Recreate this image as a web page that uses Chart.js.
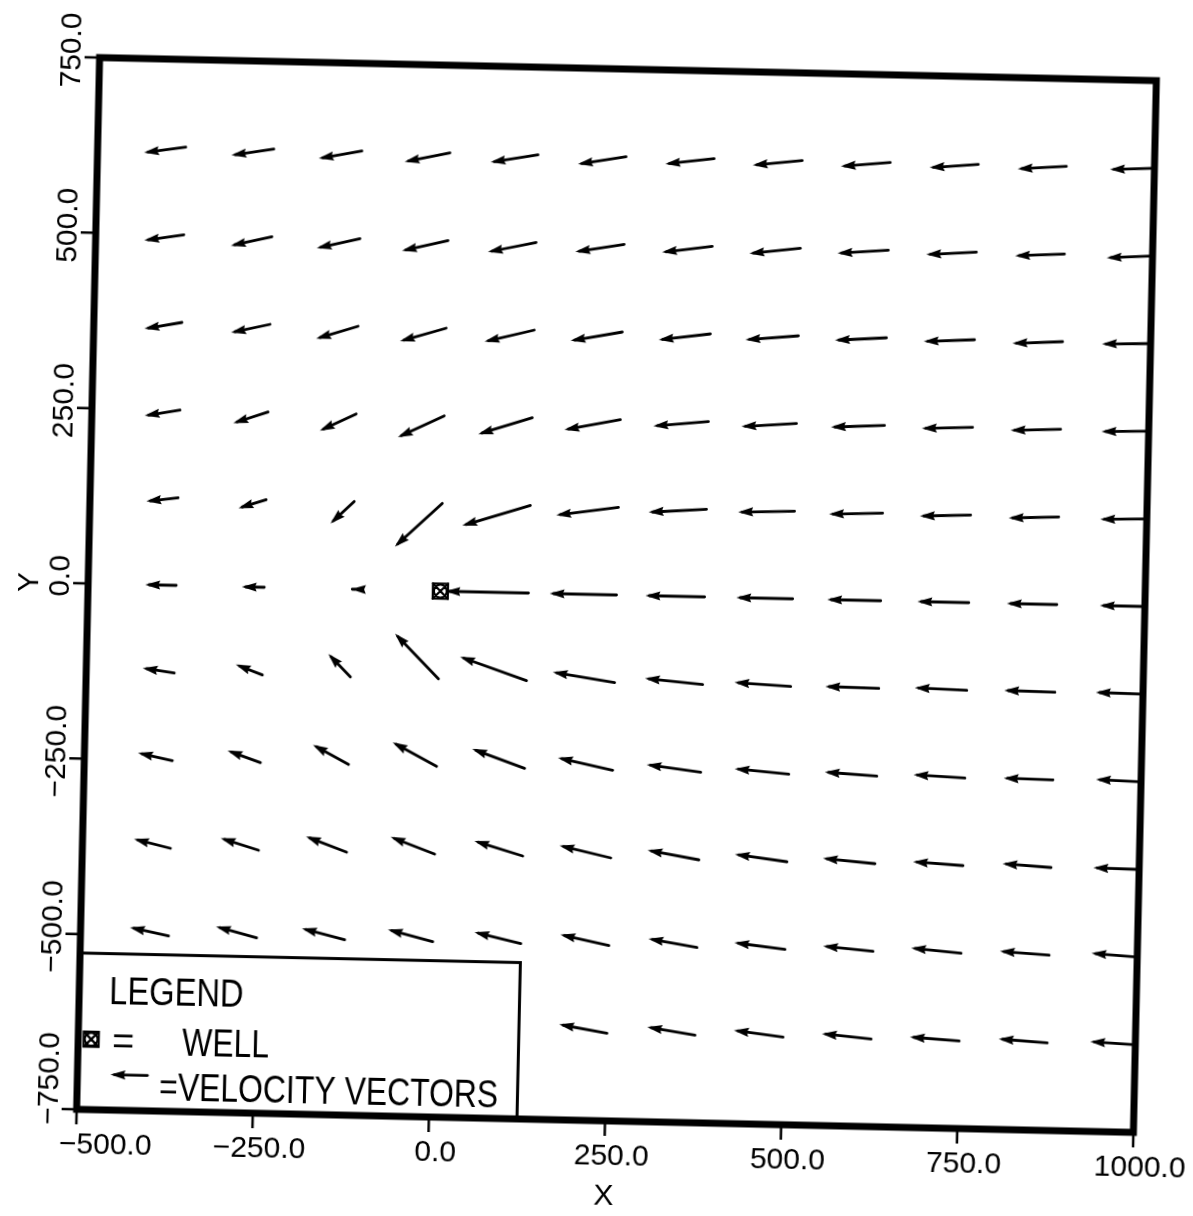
<!DOCTYPE html>
<html>
<head>
<meta charset="utf-8">
<title>Velocity vectors</title>
<script src="https://cdn.jsdelivr.net/npm/chart.js@4.4.0/dist/chart.umd.min.js"></script>
<style>
    html, body { margin: 0; padding: 0; background: #fff; width: 1193px; height: 1216px; overflow: hidden; }
    /* the scanned plot sits slightly tilted on the page */
    #wrap { position: absolute; left: 0; top: 0; width: 1240px; height: 1260px;
            transform-origin: 617px 595px; transform: rotate(1.25deg); }
</style>
</head>
<body>
<div id="wrap"><canvas id="plot" width="1240" height="1260"></canvas></div>
<script>
/*********************************/
// grid points (tail of each arrow)
const X_GRID = [-375, -250, -125, 0, 125, 250, 375, 500, 625, 750, 875, 1000];
const Y_GRID = [625, 500, 375, 250, 125, 0, -125, -250, -375, -500, -625];

// velocity components, one row per Y_GRID value (null = no arrow / under legend)
const U = [
    [-59, -60, -61, -64, -67, -68, -69, -70, -70, -69, -69, -63],
    [-56, -58, -61, -65, -68, -69, -71, -72, -72, -71, -70, -65],
    [-53, -55, -59, -65, -70, -73, -73, -75, -73, -72, -71, -69],
    [-50, -49, -51, -65, -76, -79, -78, -78, -76, -72, -71, -67],
    [-45, -39, -33, -66, -96, -88, -82, -80, -76, -72, -71, -66],
    [-44, -32, -2, null, -118, -95, -84, -80, -76, -73, -71, -64],
    [-45, -38, -32, -63, -95, -88, -82, -80, -76, -74, -72, -67],
    [-49, -47, -51, -63, -75, -78, -77, -77, -74, -73, -70, -64],
    [-52, -54, -58, -63, -69, -73, -73, -74, -74, -71, -69, -65],
    [-55, -58, -61, -64, -66, -69, -69, -72, -71, -71, -70, -65],
    [null, null, null, null, null, -68, -68, -70, -70, -70, -69, -64]
];
const V = [
    [-9, -10, -12, -14, -12, -12, -9, -8, -7, -6, -5, -3],
    [-9, -14, -15, -16, -15, -12, -10, -9, -6, -5, -4, -4],
    [-10, -13, -19, -20, -18, -14, -10, -7, -5, -4, -4, -2],
    [-9, -17, -25, -32, -25, -16, -8, -6, -4, -3, -3, -2],
    [-6, -13, -32, -63, -31, -13, -6, -3, -3, -3, -3, -2],
    [0, 0, 0, null, 0, 0, 0, 0, 0, 0, 0, 0],
    [6, 14, 32, 63, 32, 13, 7, 4, 1, 2, 1, 1],
    [10, 16, 27, 33, 26, 16, 9, 6, 4, 3, 1, 2],
    [12, 16, 21, 23, 20, 16, 12, 9, 6, 4, 4, 1],
    [11, 15, 15, 16, 15, 14, 11, 8, 6, 6, 4, 4],
    [null, null, null, null, null, 11, 10, 8, 6, 4, 4, 3]
];

const WELLS = [{ x: 0, y: 0 }];

const X_TICKS = [-500, -250, 0, 250, 500, 750, 1000];
const Y_TICKS = [-750, -500, -250, 0, 250, 500, 750];

// legend box corner (data units), box runs down to the lower-left corner
const LEGEND_CORNER = { x: 125, y: -527 };

/*********************************/
const TICK_FONT = '30px "Liberation Sans", Arial, sans-serif';
const LEGEND_FONT = '38px "Liberation Sans", Arial, sans-serif';
const HEAD_LEN = 15;
const HEAD_HALF = 4.6;

function fmt_tick(v) {
    return (v < 0 ? '\u2212' : '') + Math.abs(v).toFixed(1);
}

// Arrow from (x0,y0) to (x1,y1), fixed size filled head at the tip
function draw_arrow(ctx, x0, y0, x1, y1) {
    const a = Math.atan2(y1 - y0, x1 - x0);
    const c = Math.cos(a), s = Math.sin(a);
    ctx.beginPath();
    ctx.moveTo(x0, y0);
    ctx.lineTo(x1 - 4 * c, y1 - 4 * s);
    ctx.stroke();
    ctx.beginPath();
    ctx.moveTo(x1, y1);
    ctx.lineTo(x1 - HEAD_LEN * c - HEAD_HALF * s, y1 - HEAD_LEN * s + HEAD_HALF * c);
    ctx.lineTo(x1 - HEAD_LEN * 0.88 * c, y1 - HEAD_LEN * 0.88 * s);
    ctx.lineTo(x1 - HEAD_LEN * c + HEAD_HALF * s, y1 - HEAD_LEN * s - HEAD_HALF * c);
    ctx.closePath();
    ctx.fill();
}

function draw_well(ctx, x, y) {
    const h = 7.5;
    ctx.save();
    ctx.lineWidth = 2.2;
    ctx.strokeRect(x - h, y - h, 2 * h, 2 * h);
    ctx.beginPath();
    ctx.arc(x, y, h - 1, 0, Math.PI * 2);
    ctx.moveTo(x - h, y - h); ctx.lineTo(x + h, y + h);
    ctx.moveTo(x + h, y - h); ctx.lineTo(x - h, y + h);
    ctx.stroke();
    ctx.restore();
}

// Legend text is a narrow plotter font: squeeze it a bit
function legend_text(ctx, str, x, y, squeeze) {
    ctx.save();
    ctx.font = LEGEND_FONT;
    ctx.textAlign = 'left';
    ctx.translate(x, y);
    ctx.scale(squeeze, 1);
    ctx.fillText(str, 0, 0);
    ctx.restore();
}

const vector_plot = {
    id: 'vector_plot',
    afterDraw(chart) {
        const ctx = chart.ctx;
        const xs = chart.scales.x;
        const ys = chart.scales.y;
        const area = chart.chartArea;
        ctx.save();
        ctx.fillStyle = '#000';
        ctx.strokeStyle = '#000';

        // vectors
        ctx.lineWidth = 2.8;
        ctx.lineCap = 'round';
        for (let i = 0; i < Y_GRID.length; i++) {
            for (let j = 0; j < X_GRID.length; j++) {
                const u = U[i][j], v = V[i][j];
                if (u === null || v === null) continue;
                draw_arrow(ctx,
                    xs.getPixelForValue(X_GRID[j]), ys.getPixelForValue(Y_GRID[i]),
                    xs.getPixelForValue(X_GRID[j] + u), ys.getPixelForValue(Y_GRID[i] + v));
            }
        }
        WELLS.forEach(w => draw_well(ctx, xs.getPixelForValue(w.x), ys.getPixelForValue(w.y)));

        // legend box
        const lx = xs.getPixelForValue(LEGEND_CORNER.x);
        const ly = ys.getPixelForValue(LEGEND_CORNER.y);
        ctx.fillStyle = '#fff';
        ctx.fillRect(area.left, ly, lx - area.left, area.bottom - ly);
        ctx.fillStyle = '#000';
        ctx.lineWidth = 3;
        ctx.lineCap = 'butt';
        ctx.strokeRect(area.left, ly, lx - area.left, area.bottom - ly);
        legend_text(ctx, 'LEGEND', area.left + 30, ly + 50, 0.86);
        draw_well(ctx, area.left + 13, ly + 86);
        legend_text(ctx, '=', area.left + 34, ly + 100, 1.0);
        legend_text(ctx, 'WELL', area.left + 104, ly + 100, 0.84);
        ctx.lineWidth = 2.8;
        ctx.lineCap = 'round';
        draw_arrow(ctx, area.left + 70, ly + 121, area.left + 33, ly + 121);
        legend_text(ctx, '=VELOCITY VECTORS', area.left + 82, ly + 145, 0.84);

        // frame
        ctx.lineWidth = 7;
        ctx.lineCap = 'butt';
        ctx.lineJoin = 'miter';
        ctx.strokeRect(area.left, area.top, area.right - area.left, area.bottom - area.top);

        // ticks
        ctx.lineWidth = 2.5;
        ctx.beginPath();
        X_TICKS.forEach(v => {
            const px = xs.getPixelForValue(v);
            ctx.moveTo(px, area.bottom);
            ctx.lineTo(px, area.bottom + 15);
        });
        Y_TICKS.forEach(v => {
            const py = ys.getPixelForValue(v);
            ctx.moveTo(area.left - 15, py);
            ctx.lineTo(area.left, py);
        });
        ctx.stroke();

        // tick labels
        ctx.font = TICK_FONT;
        ctx.textBaseline = 'alphabetic';
        X_TICKS.forEach((v, k) => {
            const px = xs.getPixelForValue(v);
            if (k === 0) {
                ctx.textAlign = 'left';
                ctx.fillText(fmt_tick(v), px - 17, area.bottom + 44);
            } else {
                ctx.textAlign = 'center';
                ctx.fillText(fmt_tick(v), px + 7, area.bottom + 44);
            }
        });
        Y_TICKS.forEach((v, k) => {
            const py = ys.getPixelForValue(v);
            ctx.save();
            ctx.translate(area.left - 19, py);
            ctx.rotate(-Math.PI / 2);
            if (k === 0) {
                ctx.textAlign = 'left';
                ctx.fillText(fmt_tick(v), -16, 0);
            } else {
                ctx.textAlign = 'center';
                ctx.fillText(fmt_tick(v), 7, 0);
            }
            ctx.restore();
        });

        // axis titles
        ctx.textAlign = 'center';
        ctx.fillText('X', (area.left + area.right) / 2, area.bottom + 84);
        ctx.save();
        ctx.translate(area.left - 50, (area.top + area.bottom) / 2);
        ctx.rotate(-Math.PI / 2);
        ctx.fillText('Y', 0, 0);
        ctx.restore();

        ctx.restore();
    }
};

// tails as plain points; the plugin turns them into arrows
const tails = [];
Y_GRID.forEach((y, i) => X_GRID.forEach((x, j) => {
    if (U[i][j] !== null) tails.push({ x: x, y: y });
}));

new Chart(document.getElementById('plot'), {
    type: 'scatter',
    data: {
        datasets: [{
            data: tails,
            pointRadius: 0,
            showLine: false
        }]
    },
    plugins: [vector_plot],
    options: {
        responsive: false,
        animation: false,
        events: [],
        layout: {
            padding: { left: 88, top: 69, right: 95, bottom: 139 }
        },
        scales: {
            x: { type: 'linear', min: -500, max: 1000, display: false },
            y: { type: 'linear', min: -750, max: 750, display: false }
        },
        plugins: {
            legend: { display: false },
            tooltip: { enabled: false }
        }
    }
});
</script>
</body>
</html>
